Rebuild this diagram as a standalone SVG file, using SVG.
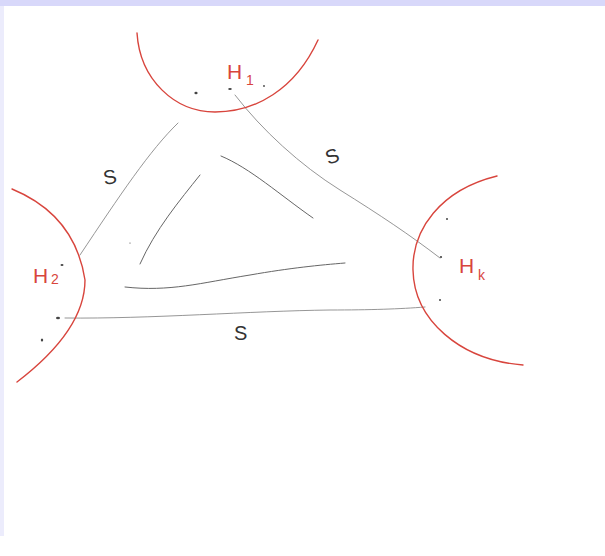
<svg xmlns="http://www.w3.org/2000/svg" width="605" height="556" viewBox="0 0 605 556">
<style>
.bound{fill:none;stroke:#d8453d;stroke-width:1.4;stroke-linecap:round}
.lab{fill:#d8453d;font-family:"Liberation Sans",Arial,sans-serif}
.edge{fill:none;stroke:#8a8a8a;stroke-width:0.9;stroke-linecap:round}
.tri{fill:none;stroke:#666;stroke-width:1;stroke-linecap:round}
.dot{fill:#444}
.s{fill:#333;font-family:"Liberation Sans",Arial,sans-serif;font-size:20px}
</style>
<rect width="605" height="556" fill="#ffffff"/>
<rect x="0" y="0" width="605" height="6" fill="#d8d8fa"/>
<rect x="0" y="6" width="4" height="530" fill="#ececfc"/>
<g id="connectors">
<path class="edge" d="M235,95 C262,130 300,165 340,190 C380,215 410,235 440,258"/>
<path class="edge" d="M178,123 C150,150 120,195 80,255"/>
<path class="edge" d="M65,318 C150,319 250,311 330,310 C370,310 400,309 425,307"/>
<text class="s" x="325" y="163" transform="rotate(-20 332 155)">S</text>
<text class="s" x="103" y="184" transform="rotate(-10 110 176)">S</text>
<text class="s" x="234" y="340">S</text>
</g>
<g id="inner-triangle">
<path class="tri" d="M221,156 C250,168 280,195 313,218"/>
<path class="tri" d="M200,175 C180,200 155,230 140,264"/>
<path class="tri" d="M125,287 C170,292 200,283 250,275 C290,268 320,265 345,263"/>
<circle class="dot" cx="130" cy="243" r="0.6"/>
</g>
<g id="H1">
<path class="bound" d="M137,33 C140,80 175,112 215,112 C255,112 295,90 318,40"/>
<text class="lab" x="227" y="79" font-size="21">H</text>
<text class="lab" x="246" y="85" font-size="14">1</text>
<ellipse class="dot" cx="196" cy="93" rx="1.6" ry="1.2"/>
<ellipse class="dot" cx="230" cy="89" rx="1.8" ry="1"/>
<circle class="dot" cx="264" cy="86" r="0.9"/>
</g>
<g id="H2">
<path class="bound" d="M12,189 Q75,215 85,280 Q85,330 17,382"/>
<text class="lab" x="33" y="283" font-size="21">H</text>
<text class="lab" x="51" y="284" font-size="14">2</text>
<ellipse class="dot" cx="62" cy="265" rx="1.5" ry="0.9"/>
<ellipse class="dot" cx="58" cy="318" rx="2" ry="1.3"/>
<ellipse class="dot" cx="42" cy="340" rx="1.2" ry="1.5"/>
</g>
<g id="Hk">
<path class="bound" d="M497,176 C440,190 412,230 413,270 C414,320 460,360 523,365"/>
<text class="lab" x="459" y="273" font-size="21">H</text>
<text class="lab" x="478" y="280" font-size="14">k</text>
<circle class="dot" cx="447" cy="219" r="1"/>
<circle class="dot" cx="441" cy="257" r="1.1"/>
<circle class="dot" cx="440" cy="300" r="1"/>
</g>
</svg>
